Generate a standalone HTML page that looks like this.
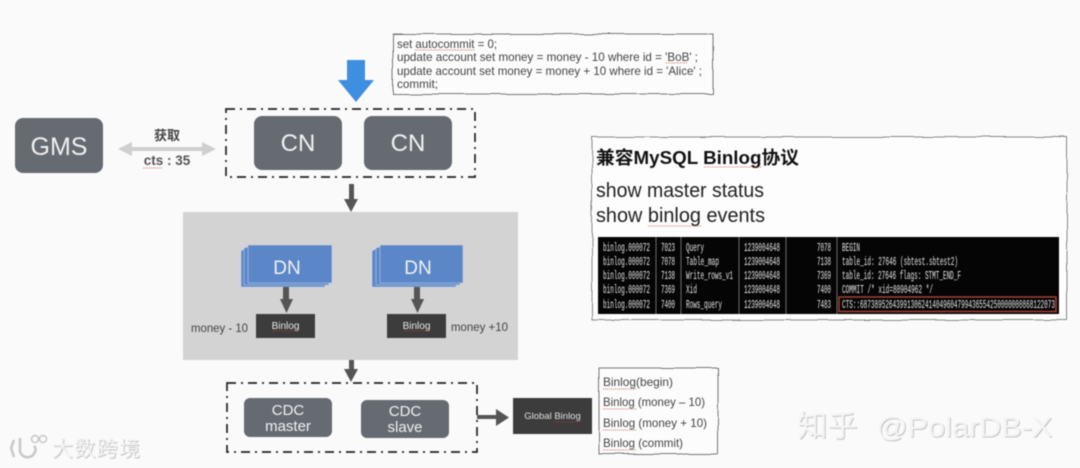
<!DOCTYPE html>
<html>
<head>
<meta charset="utf-8">
<style>
html,body{margin:0;padding:0;background:#fafafa;width:1080px;height:468px;overflow:hidden}
svg{display:block;filter:blur(.5px)}
text{font-family:"Liberation Sans","Noto Sans CJK SC",sans-serif}
.m{font-family:"Liberation Mono",monospace;font-size:12px;fill:#e6e6e6}
.sq{stroke:#c0392b;stroke-width:1;stroke-dasharray:1 1;fill:none;opacity:.7}
.sql{font-size:12px;fill:#444}
.bl{font-size:12px;fill:#444}
.w{fill:#f0f0f0;font-size:20px;text-anchor:middle}
.dash{fill:none;stroke:#222;stroke-width:1.700;stroke-dasharray:9 5 2 5}
</style>
</head>
<body>
<svg width="1080" height="468" viewBox="0 0 1080 468" xmlns="http://www.w3.org/2000/svg">
<defs>
<filter id="wob" x="-3%" y="-6%" width="106%" height="112%">
<feTurbulence type="fractalNoise" baseFrequency="0.035" numOctaves="2" seed="4"/>
<feDisplacementMap in="SourceGraphic" scale="3"/>
</filter>
</defs>
<rect width="1080" height="468" fill="#fafafa"/>

<!-- SQL note -->
<rect x="393" y="34" width="320" height="60" fill="#fcfcfc" stroke="#777" stroke-width="1" filter="url(#wob)"/>
<text class="sql" x="397" y="48" textLength="100" lengthAdjust="spacingAndGlyphs">set autocommit = 0;</text>
<text class="sql" x="397" y="61" textLength="301" lengthAdjust="spacingAndGlyphs">update account set money = money - 10 where id = 'BoB' ;</text>
<text class="sql" x="397" y="75" textLength="305" lengthAdjust="spacingAndGlyphs">update account set money = money + 10 where id = 'Alice' ;</text>
<text class="sql" x="397" y="88" textLength="41" lengthAdjust="spacingAndGlyphs">commit;</text>
<line class="sq" x1="415" y1="50" x2="475" y2="50"/>
<line class="sq" x1="666" y1="63" x2="688" y2="63"/>

<!-- blue arrow -->
<polygon points="347,60 365,60 365,80 374,80 356,102 338,80 347,80" fill="#3f8fe0"/>

<!-- CN group -->
<rect class="dash" x="226" y="109" width="249" height="68"/>
<rect x="254" y="116" width="88" height="54" rx="8" fill="#666b72"/>
<rect x="364" y="116" width="88" height="54" rx="8" fill="#666b72"/>
<text x="298" y="151" class="w" style="font-size:24px">CN</text>
<text x="408" y="151" class="w" style="font-size:24px">CN</text>

<!-- GMS -->
<rect x="15" y="118" width="88" height="55" rx="8" fill="#666b72"/>
<text x="59" y="155" class="w" style="font-size:25px">GMS</text>
<polygon points="118,149 132,142 132,147 202,147 202,142 216,149 202,156 202,151 132,151 132,156" fill="#cfcfcf"/>
<text x="167" y="140" text-anchor="middle" style="font-size:13px;font-weight:bold" fill="#444">获取</text>
<text x="167" y="165" text-anchor="middle" style="font-size:13.5px;font-weight:bold" fill="#555">cts : 35</text>
<line class="sq" x1="143" y1="168" x2="163" y2="168"/>

<!-- arrow CN->DN -->
<rect x="349" y="184" width="5" height="16" fill="#555"/>
<polygon points="344,199 358,199 351,212" fill="#555"/>

<!-- gray panel -->
<rect x="183" y="212" width="335" height="148" fill="#d3d3d3"/>

<!-- DN stacks -->
<g fill="#5b87c9" stroke="#cfd8e6" stroke-width=".5">
<polygon points="241,251 248,247 325,247 325,287 241,287"/>
<polygon points="244,248 251,246 329,246 329,285 244,285"/>
<rect x="248" y="245" width="84" height="38"/>
<polygon points="372,251 379,247 456,247 456,287 372,287"/>
<polygon points="376,248 383,246 460,246 460,285 376,285"/>
<rect x="380" y="245" width="83" height="38"/>
</g>
<text x="287" y="274" class="w" style="font-size:19px">DN</text>
<text x="418" y="274" class="w" style="font-size:19px">DN</text>

<rect x="283" y="287" width="6" height="13" fill="#555"/>
<polygon points="280,299 293,299 286.500,313" fill="#555"/>
<rect x="414" y="287" width="6" height="13" fill="#555"/>
<polygon points="411,299 424,299 417.500,313" fill="#555"/>

<rect x="256" y="314" width="59" height="24" fill="#3c3c3c"/>
<rect x="387" y="314" width="59" height="24" fill="#3c3c3c"/>
<text x="285.500" y="329" text-anchor="middle" style="font-size:10px" fill="#e8e8e8">Binlog</text>
<text x="416.500" y="329" text-anchor="middle" style="font-size:10px" fill="#e8e8e8">Binlog</text>
<line class="sq" x1="273" y1="331" x2="299" y2="331"/>
<line class="sq" x1="404" y1="331" x2="430" y2="331"/>
<text x="191" y="332" style="font-size:12px" fill="#444" textLength="57" lengthAdjust="spacingAndGlyphs">money - 10</text>
<text x="451" y="331" style="font-size:12px" fill="#444" textLength="57" lengthAdjust="spacingAndGlyphs">money +10</text>

<!-- arrow panel->CDC -->
<rect x="349" y="360" width="5" height="10" fill="#555"/>
<polygon points="344,369 358,369 351,382" fill="#555"/>

<!-- CDC group -->
<rect class="dash" x="227" y="383" width="250" height="69"/>
<rect x="244" y="398" width="88" height="39" rx="6" fill="#666b72"/>
<rect x="361" y="400" width="88" height="38" rx="6" fill="#666b72"/>
<text x="288" y="415" class="w" style="font-size:15px">CDC</text>
<text x="288" y="431" class="w" style="font-size:15px">master</text>
<text x="405" y="416" class="w" style="font-size:15px">CDC</text>
<text x="405" y="432" class="w" style="font-size:15px">slave</text>

<!-- arrow to Global -->
<rect x="477" y="415" width="20" height="4" fill="#555"/>
<polygon points="496,409 496,426 509,417.500" fill="#555"/>
<rect x="513" y="398" width="79" height="36" fill="#3c3c3c"/>
<text x="552.500" y="419" text-anchor="middle" style="font-size:9.500px" fill="#e0e0e0">Global Binlog</text>
<line class="sq" x1="554" y1="422" x2="581" y2="422"/>

<!-- Binlog list -->
<rect x="599" y="368" width="119" height="86" fill="#fcfcfc" stroke="#777" filter="url(#wob)"/>
<text class="bl" x="603" y="386" textLength="70" lengthAdjust="spacingAndGlyphs">Binlog(begin)</text>
<text class="bl" x="603" y="406" textLength="102" lengthAdjust="spacingAndGlyphs">Binlog (money – 10)</text>
<text class="bl" x="603" y="427" textLength="104" lengthAdjust="spacingAndGlyphs">Binlog (money + 10)</text>
<text class="bl" x="603" y="447" textLength="80" lengthAdjust="spacingAndGlyphs">Binlog (commit)</text>
<line class="sq" x1="603" y1="389" x2="636" y2="389"/>
<line class="sq" x1="603" y1="409" x2="636" y2="409"/>
<line class="sq" x1="603" y1="430" x2="636" y2="430"/>
<line class="sq" x1="603" y1="450" x2="636" y2="450"/>

<!-- protocol panel -->
<rect x="592" y="137" width="475" height="183" fill="#fdfdfd" stroke="#888" filter="url(#wob)"/>
<text x="596" y="164" style="font-size:18px;font-weight:bold" fill="#111" textLength="203" lengthAdjust="spacingAndGlyphs">兼容MySQL Binlog协议</text>
<line class="sq" x1="704" y1="167" x2="762" y2="167"/>
<text x="596" y="197" style="font-size:20px" fill="#222" textLength="168" lengthAdjust="spacingAndGlyphs">show master status</text>
<text x="596" y="222" style="font-size:20px" fill="#222" textLength="169" lengthAdjust="spacingAndGlyphs">show binlog events</text>
<line class="sq" x1="648" y1="226" x2="702" y2="226"/>

<rect x="598" y="237" width="461" height="77" fill="#050505"/>
<g stroke="#999" stroke-width=".7">
<line x1="656" y1="237" x2="656" y2="314"/>
<line x1="681" y1="237" x2="681" y2="314"/>
<line x1="739" y1="237" x2="739" y2="314"/>
<line x1="786" y1="237" x2="786" y2="314"/>
<line x1="837" y1="237" x2="837" y2="314"/>
</g>
<text class="m" x="603" y="251" textLength="47" lengthAdjust="spacingAndGlyphs">binlog.000072</text>
<text class="m" x="661" y="251" textLength="14" lengthAdjust="spacingAndGlyphs">7023</text>
<text class="m" x="686" y="251" textLength="18" lengthAdjust="spacingAndGlyphs">Query</text>
<text class="m" x="744" y="251" textLength="36" lengthAdjust="spacingAndGlyphs">1239004648</text>
<text class="m" x="817" y="251" textLength="14" lengthAdjust="spacingAndGlyphs">7078</text>
<text class="m" x="842" y="251" textLength="18" lengthAdjust="spacingAndGlyphs">BEGIN</text>

<text class="m" x="603" y="265" textLength="47" lengthAdjust="spacingAndGlyphs">binlog.000072</text>
<text class="m" x="661" y="265" textLength="14" lengthAdjust="spacingAndGlyphs">7078</text>
<text class="m" x="686" y="265" textLength="33" lengthAdjust="spacingAndGlyphs">Table_map</text>
<text class="m" x="744" y="265" textLength="36" lengthAdjust="spacingAndGlyphs">1239004648</text>
<text class="m" x="817" y="265" textLength="14" lengthAdjust="spacingAndGlyphs">7138</text>
<text class="m" x="842" y="265" textLength="116" lengthAdjust="spacingAndGlyphs">table_id: 27646 (sbtest.sbtest2)</text>

<text class="m" x="603" y="279" textLength="47" lengthAdjust="spacingAndGlyphs">binlog.000072</text>
<text class="m" x="661" y="279" textLength="14" lengthAdjust="spacingAndGlyphs">7138</text>
<text class="m" x="686" y="279" textLength="47" lengthAdjust="spacingAndGlyphs">Write_rows_v1</text>
<text class="m" x="744" y="279" textLength="36" lengthAdjust="spacingAndGlyphs">1239004648</text>
<text class="m" x="817" y="279" textLength="14" lengthAdjust="spacingAndGlyphs">7369</text>
<text class="m" x="842" y="279" textLength="119" lengthAdjust="spacingAndGlyphs">table_id: 27646 flags: STMT_END_F</text>

<text class="m" x="603" y="293" textLength="47" lengthAdjust="spacingAndGlyphs">binlog.000072</text>
<text class="m" x="661" y="293" textLength="14" lengthAdjust="spacingAndGlyphs">7369</text>
<text class="m" x="686" y="293" textLength="11" lengthAdjust="spacingAndGlyphs">Xid</text>
<text class="m" x="744" y="293" textLength="36" lengthAdjust="spacingAndGlyphs">1239004648</text>
<text class="m" x="817" y="293" textLength="14" lengthAdjust="spacingAndGlyphs">7400</text>
<text class="m" x="842" y="293" textLength="91" lengthAdjust="spacingAndGlyphs">COMMIT /* xid=80904962 */</text>

<text class="m" x="603" y="308" textLength="47" lengthAdjust="spacingAndGlyphs">binlog.000072</text>
<text class="m" x="661" y="308" textLength="14" lengthAdjust="spacingAndGlyphs">7400</text>
<text class="m" x="686" y="308" textLength="36" lengthAdjust="spacingAndGlyphs">Rows_query</text>
<text class="m" x="744" y="308" textLength="36" lengthAdjust="spacingAndGlyphs">1239004648</text>
<text class="m" x="817" y="308" textLength="14" lengthAdjust="spacingAndGlyphs">7483</text>
<text class="m" x="842" y="308" textLength="213" lengthAdjust="spacingAndGlyphs">CTS::687389526439913062414049604799436554250000000868122073</text>
<rect x="839" y="297" width="217" height="14.500" fill="none" stroke="#a8402f" stroke-width="1.500"/>

<!-- watermarks -->
<g fill="#9a9a9a" opacity=".55">
<text x="53" y="457" style="font-size:21px" textLength="88" lengthAdjust="spacing">大数跨境</text>
<text x="798.500" y="437.500" style="font-size:30px">知乎</text>
<text x="877.500" y="437.500" style="font-size:28px" textLength="176" lengthAdjust="spacingAndGlyphs">@PolarDB-X</text>
</g>
<g fill="#f4f4f4">
<text x="52" y="456" style="font-size:21px" textLength="88" lengthAdjust="spacing">大数跨境</text>
<text x="797.500" y="436.500" style="font-size:30px">知乎</text>
<text x="876.500" y="436.500" style="font-size:28px" textLength="176" lengthAdjust="spacingAndGlyphs">@PolarDB-X</text>
</g>
<g fill="none" stroke="#c8c8c8" stroke-width="2.500">
<path d="M14,440 L11,448 L14,457"/>
<path d="M20,438 L20,452 Q24,460 32,456 Q38,450 34,446"/>
<circle cx="35" cy="439" r="3.500" stroke-width="1.500"/>
<circle cx="43" cy="439" r="3.500" stroke-width="1.500"/>
</g>
</svg>
</body>
</html>
